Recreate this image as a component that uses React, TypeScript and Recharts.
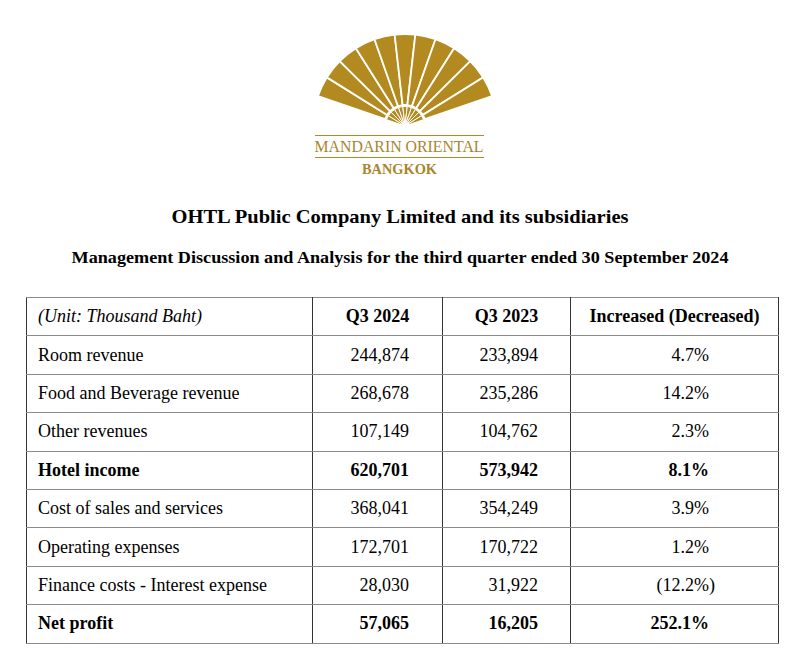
import React from "react";
import { PieChart, Pie } from "recharts";

const logoBlades = [1, 1, 1, 1, 1, 1, 1, 1, 1, 1, 1];
const headers = ["(Unit: Thousand Baht)", "Q3 2024", "Q3 2023", "Increased (Decreased)"];
const rowLabels = [
  "Room revenue",
  "Food and Beverage revenue",
  "Other revenues",
  "Hotel income",
  "Cost of sales and services",
  "Operating expenses",
  "Finance costs - Interest expense",
  "Net profit",
];
const q3_2024 = [244874, 268678, 107149, 620701, 368041, 172701, 28030, 57065];
const q3_2023 = [233894, 235286, 104762, 573942, 354249, 170722, 31922, 16205];
const changePct = [4.7, 14.2, 2.3, 8.1, 3.9, 1.2, -12.2, 252.1];
const boldRows = ["Hotel income", "Net profit"];

const GOLD = "#B28A1F";
const TEXT_GOLD = "#A9852C";
const SERIF = "'Liberation Serif', 'Times New Roman', serif";

const fmtNum = (v: number) => v.toLocaleString("en-US");
const fmtPct = (v: number) => (v < 0 ? `(${Math.abs(v).toFixed(1)}%)` : `${v.toFixed(1)}%`);

const colW = [286, 130, 128, 208];
const ROW_H = 38.4;

export default function App() {
  const bladeData = logoBlades.map((v, i) => ({ name: `b${i}`, v }));
  const cell = (w: number, extra: React.CSSProperties = {}): React.CSSProperties => ({
    width: w,
    height: ROW_H,
    boxSizing: "border-box",
    padding: 0,
    fontFamily: SERIF,
    fontSize: 18,
    color: "#000",
    verticalAlign: "middle",
    borderTop: "1px solid #8a8a8a",
    borderBottom: "1px solid #8a8a8a",
    borderLeft: "1px solid #333",
    borderRight: "1px solid #333",
    ...extra,
  });
  return (
    <div style={{ position: "absolute", left: 0, top: 0, width: 800, height: 654, background: "#fff", overflow: "hidden" }}>
      <div style={{ position: "absolute", left: 300, top: 24 }}>
        <PieChart width={200} height={100}>
          <Pie
            data={bladeData}
            dataKey="v"
            cx={100}
            cy={97}
            innerRadius={21}
            outerRadius={92}
            startAngle={161}
            endAngle={19}
            fill={GOLD}
            stroke="#fff"
            strokeWidth={1.8}
            isAnimationActive={false}
          />
          <Pie
            data={bladeData}
            dataKey="v"
            cx={100}
            cy={97}
            innerRadius={2}
            outerRadius={19.5}
            startAngle={161}
            endAngle={19}
            fill={GOLD}
            stroke="#fff"
            strokeWidth={1}
            isAnimationActive={false}
          />
        </PieChart>
      </div>
      <svg style={{ position: "absolute", left: 0, top: 125 }} width={800} height={150}>
        <line x1={315} x2={484} y1={10.5} y2={10.5} stroke={GOLD} strokeWidth={1} />
        <text x={399} y={26.5} textAnchor="middle" fontFamily={SERIF} fontSize={17} fill={TEXT_GOLD} textLength={169} lengthAdjust="spacingAndGlyphs">
          MANDARIN ORIENTAL
        </text>
        <line x1={315} x2={484} y1={32.5} y2={32.5} stroke={GOLD} strokeWidth={1} />
        <text x={399.5} y={48.5} textAnchor="middle" fontFamily={SERIF} fontSize={14} fontWeight="bold" fill={TEXT_GOLD} textLength={75} lengthAdjust="spacingAndGlyphs">
          BANGKOK
        </text>
        <text x={400} y={98} textAnchor="middle" fontFamily={SERIF} fontSize={19} fontWeight="bold" fill="#000" textLength={457} lengthAdjust="spacingAndGlyphs">
          OHTL Public Company Limited and its subsidiaries
        </text>
        <text x={400} y={138} textAnchor="middle" fontFamily={SERIF} fontSize={16.5} fontWeight="bold" fill="#000" textLength={657} lengthAdjust="spacingAndGlyphs">
          Management Discussion and Analysis for the third quarter ended 30 September 2024
        </text>
      </svg>
      <table
        style={{
          position: "absolute",
          left: 26,
          top: 297,
          borderCollapse: "collapse",
          tableLayout: "fixed",
          width: 752,
          border: "1px solid #666",
        }}
      >
        <tbody>
          <tr>
            <td style={cell(colW[0], { paddingLeft: 11, fontStyle: "italic" })}>{headers[0]}</td>
            <td style={cell(colW[1], { textAlign: "center", fontWeight: "bold" })}>{headers[1]}</td>
            <td style={cell(colW[2], { textAlign: "center", fontWeight: "bold" })}>{headers[2]}</td>
            <td style={cell(colW[3], { textAlign: "center", fontWeight: "bold" })}>{headers[3]}</td>
          </tr>
          {rowLabels.map((label, i) => {
            const b = boldRows.includes(label) ? "bold" : "normal";
            return (
              <tr key={label}>
                <td style={cell(colW[0], { paddingLeft: 11, fontWeight: b })}>{label}</td>
                <td style={cell(colW[1], { textAlign: "right", paddingRight: 33, fontWeight: b })}>{fmtNum(q3_2024[i])}</td>
                <td style={cell(colW[2], { textAlign: "right", paddingRight: 32, fontWeight: b })}>{fmtNum(q3_2023[i])}</td>
                <td style={cell(colW[3], { textAlign: "right", paddingRight: changePct[i] < 0 ? 63 : 69, fontWeight: b })}>
                  {fmtPct(changePct[i])}
                </td>
              </tr>
            );
          })}
        </tbody>
      </table>
    </div>
  );
}
